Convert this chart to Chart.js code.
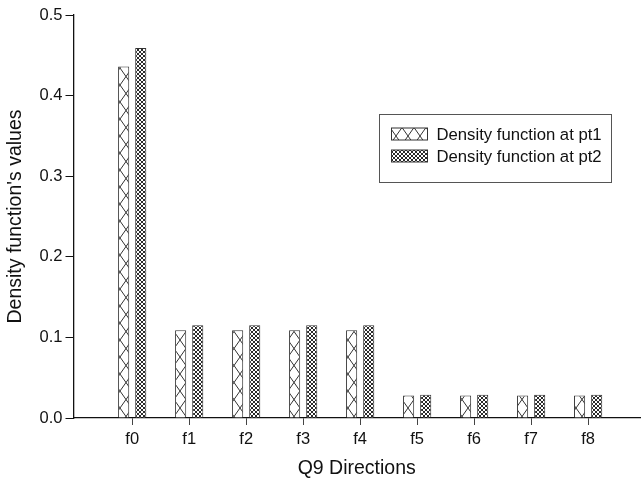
<!DOCTYPE html>
<html>
<head>
<meta charset="utf-8">
<script src="https://cdn.jsdelivr.net/npm/chart.js@4"></script>
<style>
  html, body { margin: 0; padding: 0; background: #fff; }
  #wrap { width: 642px; height: 486px; }
</style>
</head>
<body>
<div id="wrap"><canvas id="chart" width="642" height="486"></canvas></div>
<script>
// data
const directions = ['f0', 'f1', 'f2', 'f3', 'f4', 'f5', 'f6', 'f7', 'f8'];
const densityPt1 = [0.436, 0.109, 0.109, 0.109, 0.109, 0.028, 0.028, 0.028, 0.028];
const densityPt2 = [0.459, 0.115, 0.115, 0.115, 0.115, 0.029, 0.029, 0.029, 0.029];
const seriesLabels = ['Density function at pt1', 'Density function at pt2'];
const yTicks = [0.0, 0.1, 0.2, 0.3, 0.4, 0.5];

const FONT = 'Arial, "Liberation Sans", sans-serif';
const INK = '#111';

// hatch patterns
function makeCrossPattern(ctx) {
    const c = document.createElement('canvas');
    c.width = 12; c.height = 17;
    const g = c.getContext('2d');
    g.fillStyle = '#fff';
    g.fillRect(0, 0, 12, 17);
    g.strokeStyle = '#333';
    g.lineWidth = 1;
    g.beginPath();
    g.moveTo(0, 0); g.lineTo(12, 17);
    g.moveTo(12, 0); g.lineTo(0, 17);
    g.stroke();
    return ctx.createPattern(c, 'repeat');
}

function makeMeshPattern(ctx) {
    const c = document.createElement('canvas');
    c.width = 4; c.height = 4;
    const g = c.getContext('2d');
    g.fillStyle = '#fff';
    g.fillRect(0, 0, 4, 4);
    g.strokeStyle = '#2a2a2a';
    g.lineWidth = 1;
    g.beginPath();
    g.moveTo(0, 0); g.lineTo(4, 4);
    g.moveTo(4, 0); g.lineTo(0, 4);
    g.stroke();
    return ctx.createPattern(c, 'repeat');
}

const canvas = document.getElementById('chart');
const ctx = canvas.getContext('2d');
const fillPt1 = makeCrossPattern(ctx);
const fillPt2 = makeMeshPattern(ctx);

// legend box drawn inside the plot, like the original
const boxLegend = {
    id: 'boxLegend',
    afterDraw(chart) {
        const g = chart.ctx;
        const x0 = 379.5, y0 = 114.5, w = 232, h = 68;
        g.save();
        g.strokeStyle = '#555';
        g.lineWidth = 1;
        g.strokeRect(x0, y0, w, h);
        const fills = [fillPt1, fillPt2];
        chart.data.datasets.forEach((ds, i) => {
            const yc = 134 + i * 22;
            g.fillStyle = fills[i];
            g.fillRect(x0 + 12, yc - 6, 36, 12);
            g.strokeStyle = '#333';
            g.strokeRect(x0 + 12, yc - 6, 36, 12);
            g.fillStyle = INK;
            g.font = '16.7px ' + FONT;
            g.textBaseline = 'middle';
            g.fillText(ds.label, x0 + 57, yc + 1);
        });
        g.restore();
    }
};

new Chart(ctx, {
    type: 'bar',
    data: {
        datasets: [{
            label: seriesLabels[0],
            data: densityPt1.map((v, i) => ({ x: i, y: v })),
            backgroundColor: fillPt1,
            borderColor: '#333',
            borderWidth: 1
        }, {
            label: seriesLabels[1],
            data: densityPt2.map((v, i) => ({ x: i, y: v })),
            backgroundColor: fillPt2,
            borderColor: '#333',
            borderWidth: 1
        }]
    },
    options: {
        responsive: false,
        animation: false,
        categoryPercentage: 0.6,
        barPercentage: 0.65,
        layout: { padding: { top: 15, right: 2, left: 0, bottom: 0 } },
        plugins: {
            legend: { display: false },
            tooltip: { enabled: false }
        },
        scales: {
            x: {
                type: 'linear',
                offset: false,
                min: -1.03,
                max: 8.91,
                afterBuildTicks: axis => {
                    axis.ticks = directions.map((d, i) => ({ value: i }));
                },
                afterFit: axis => { axis.height = 68; },
                ticks: {
                    color: INK,
                    font: { family: FONT, size: 16.5 },
                    padding: 5,
                    maxRotation: 0,
                    autoSkip: false,
                    callback: value => directions[value] ?? ''
                },
                grid: { drawOnChartArea: false, offset: false, tickLength: 7, color: '#444' },
                border: { color: '#111', width: 1.3 },
                title: {
                    display: true,
                    text: 'Q9 Directions',
                    color: INK,
                    font: { family: FONT, size: 19.5 },
                    padding: { top: 0, bottom: 6 }
                }
            },
            y: {
                min: 0,
                max: 0.5,
                afterBuildTicks: axis => {
                    axis.ticks = yTicks.map(v => ({ value: v }));
                },
                afterFit: axis => { axis.width = 73.5; },
                ticks: {
                    color: INK,
                    font: { family: FONT, size: 16.5 },
                    padding: 3,
                    callback: value => value.toFixed(1)
                },
                grid: { drawOnChartArea: false, tickLength: 8, color: '#111' },
                border: { color: '#111', width: 1.3 },
                title: {
                    display: true,
                    text: "Density function's values",
                    color: INK,
                    font: { family: FONT, size: 19.5 },
                    padding: { top: 4, bottom: 0 }
                }
            }
        }
    },
    plugins: [boxLegend]
});
</script>
</body>
</html>
